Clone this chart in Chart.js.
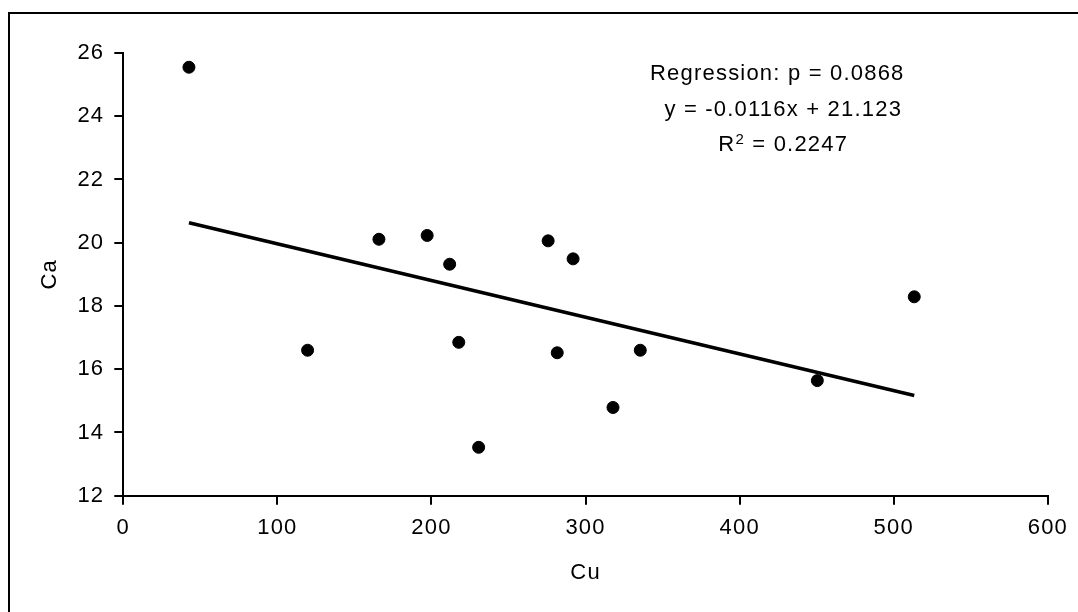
<!DOCTYPE html>
<html>
<head>
<meta charset="utf-8">
<script src="https://cdn.jsdelivr.net/npm/chart.js@4.4.0/dist/chart.umd.min.js"></script>
<style>
  html, body { margin: 0; padding: 0; background: #fff; overflow: hidden; }
  #frame { position: absolute; left: 8px; top: 12px; width: 1200px; height: 800px; border: 2px solid #000; box-sizing: border-box; }
  #chart { position: absolute; left: 0; top: 0; }
</style>
</head>
<body>
<div id="frame"></div>
<canvas id="chart" width="1078" height="612"></canvas>
<script>
// measured points (Cu vs Ca)
const cuValues = [42.6, 119.6, 165.9, 197.2, 211.8, 217.7, 230.6, 275.7, 281.6, 291.9, 317.8, 335.5, 450.4, 513.3];
const caValues = [25.55, 16.60, 20.11, 20.23, 19.32, 16.85, 13.53, 20.06, 16.52, 19.49, 14.79, 16.60, 15.64, 18.29];

// ends of the fitted line
const trendCu = [42.6, 513.3];
const trendCa = [20.63, 15.17];

const xTickValues = [0, 100, 200, 300, 400, 500, 600];
const yTickValues = [12, 14, 16, 18, 20, 22, 24, 26];

const noteLines = ['Regression: p = 0.0868', 'y = -0.0116x + 21.123'];
const noteR2 = ['R', '2', ' = 0.2247'];

const FONT = '"Liberation Sans", Arial, sans-serif';
const SIZE = 22;
const SPACING = '1.2px';

const spacingPlugin = {
  id: 'spacing',
  beforeUpdate(chart) { chart.ctx.letterSpacing = SPACING; },
  beforeDraw(chart) { chart.ctx.letterSpacing = SPACING; }
};

const notePlugin = {
  id: 'note',
  afterDraw(chart) {
    const ctx = chart.ctx;
    const top = chart.scales.y.getPixelForValue(26);
    const cx = chart.scales.x.getPixelForValue(427);
    ctx.save();
    ctx.fillStyle = '#000';
    ctx.letterSpacing = SPACING;
    ctx.textBaseline = 'alphabetic';
    ctx.font = SIZE + 'px ' + FONT;
    ctx.textAlign = 'center';
    ctx.fillText(noteLines[0], cx - 4, top + 27);
    ctx.fillText(noteLines[1], cx + 2, top + 62.7);
    // R squared with superscript
    ctx.textAlign = 'left';
    const wR = ctx.measureText(noteR2[0]).width;
    const wRest = ctx.measureText(noteR2[2]).width;
    ctx.font = '15px ' + FONT;
    const w2 = ctx.measureText(noteR2[1]).width;
    let x = cx + 2 - (wR + w2 + wRest) / 2;
    const base = top + 98;
    ctx.font = SIZE + 'px ' + FONT;
    ctx.fillText(noteR2[0], x, base);
    x += wR;
    ctx.font = '15px ' + FONT;
    ctx.fillText(noteR2[1], x, base - 7);
    x += w2;
    ctx.font = SIZE + 'px ' + FONT;
    ctx.fillText(noteR2[2], x, base);
    ctx.restore();
  }
};

Chart.defaults.font.family = FONT;
Chart.defaults.font.size = SIZE;
Chart.defaults.color = '#000';

new Chart('chart', {
  type: 'scatter',
  data: {
    datasets: [{
      label: 'Ca',
      data: cuValues.map((v, i) => ({ x: v, y: caValues[i] })),
      backgroundColor: '#000',
      borderColor: '#000',
      pointRadius: 6,
      pointHoverRadius: 6
    }, {
      label: 'trend',
      type: 'line',
      data: trendCu.map((v, i) => ({ x: v, y: trendCa[i] })),
      borderColor: '#000',
      borderWidth: 3.5,
      pointRadius: 0,
      fill: false,
      showLine: true
    }]
  },
  options: {
    responsive: false,
    animation: false,
    events: [],
    layout: { padding: { left: 10, top: 53, right: 26.3, bottom: 0 } },
    plugins: { legend: { display: false }, tooltip: { enabled: false } },
    scales: {
      x: {
        type: 'linear',
        min: 0, max: 600,
        afterBuildTicks: s => { s.ticks = xTickValues.map(v => ({ value: v })); },
        afterFit: s => { s.height = 116.3; },
        ticks: { padding: 10, maxRotation: 0, font: { size: SIZE } },
        grid: { drawOnChartArea: false, drawTicks: true, tickLength: 9, color: '#000', lineWidth: 2 },
        border: { display: true, color: '#000', width: 2 },
        title: { display: true, text: 'Cu', font: { size: SIZE }, padding: { top: 0, bottom: 26 } }
      },
      y: {
        type: 'linear',
        min: 12, max: 26,
        afterBuildTicks: s => { s.ticks = yTickValues.map(v => ({ value: v })); },
        afterFit: s => { s.width = 113.3; },
        ticks: { padding: 10, font: { size: SIZE } },
        grid: { drawOnChartArea: false, drawTicks: true, tickLength: 9, color: '#000', lineWidth: 2 },
        border: { display: true, color: '#000', width: 2 },
        title: { display: true, text: 'Ca', font: { size: SIZE }, padding: { top: 27, bottom: 0 } }
      }
    }
  },
  plugins: [spacingPlugin, notePlugin]
});
</script>
</body>
</html>
